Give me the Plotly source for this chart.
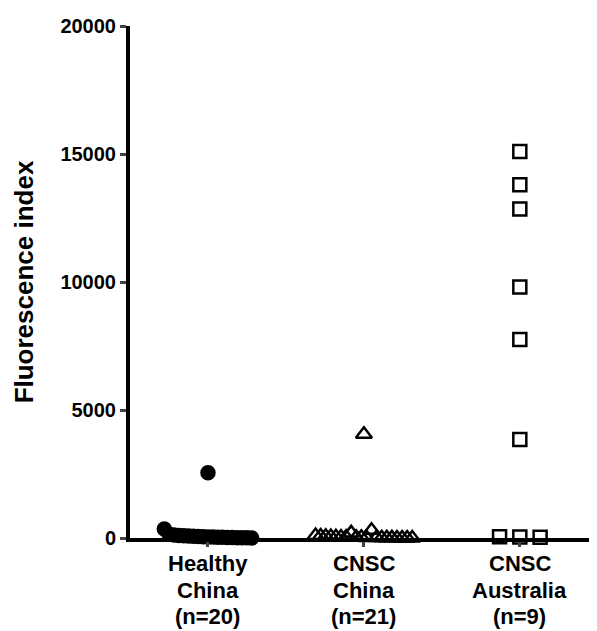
import plotly.graph_objects as go
import numpy as np

category_lines = [["Healthy", "China", "(n=20)"],
                  ["CNSC", "China", "(n=21)"],
                  ["CNSC", "Australia", "(n=9)"]]
healthy_china = [350, 150, 120, 100, 90, 80, 70, 60, 2550, 50, 40, 40, 30, 30, 20, 20, 10, 10, 5, 0]
cnsc_china = [100, 80, 70, 60, 50, 40, 40, 200, 30, 30, 20, 300, 20, 10, 10, 5, 0, 0, 0, 0, 4050]
cnsc_australia = [15100, 13800, 12850, 9800, 7750, 3850, 50, 40, 30]
y_ticks = [0, 5000, 10000, 15000, 20000]

groups = [healthy_china, cnsc_china, cnsc_australia]
symbols = ["circle", "triangle-up-open", "square-open"]
sizes = [13, 14, 13]
spreads = [0.28, 0.31, 0.13]


def spread_positions(values, center, half_width, thresh=1000):
    vals = np.asarray(values, dtype=float)
    low_idx = [i for i, v in enumerate(vals) if v < thresh]
    xs = np.full(len(vals), float(center))
    if len(low_idx) > 1:
        offs = np.linspace(-half_width, half_width, len(low_idx))
        for k, i in enumerate(low_idx):
            xs[i] = center + offs[k]
    return xs


fig = go.Figure()
for gi, (vals, sym, sz, sp) in enumerate(zip(groups, symbols, sizes, spreads)):
    xs = spread_positions(vals, gi, sp)
    fig.add_trace(go.Scatter(
        x=xs, y=vals, mode="markers", cliponaxis=False,
        marker=dict(symbol=sym, size=sz,
                    color="black", line=dict(color="black", width=2.5)),
        showlegend=False,
    ))

font = "Liberation Sans, Arial, sans-serif"
line_offsets = [25, 52, 78]
for ci, lines in enumerate(category_lines):
    for li, txt in enumerate(lines):
        fig.add_annotation(x=ci, y=0, xref="x", yref="y", text=txt, showarrow=False,
                           yanchor="middle", xanchor="center", yshift=-line_offsets[li],
                           font=dict(family=font, size=22, weight="bold", color="black"))

fig.update_layout(
    width=589, height=623,
    margin=dict(l=122, r=7, t=12, b=93),
    paper_bgcolor="white", plot_bgcolor="white",
    font=dict(family=font, color="black", size=20),
    xaxis=dict(range=[-0.5, 2.45], tickvals=[0, 1, 2], showticklabels=False,
               showgrid=False, zeroline=False, showline=True, linecolor="black",
               linewidth=4, ticks="outside", ticklen=5, tickwidth=3),
    yaxis=dict(range=[0, 20000], tickvals=y_ticks, ticktext=[str(v) for v in y_ticks],
               showgrid=False, zeroline=False, showline=True, linecolor="black",
               linewidth=4, ticks="outside", ticklen=6, tickwidth=3,
               tickfont=dict(family=font, size=20, weight="bold"),
               title=dict(text="Fluorescence index", standoff=20,
                          font=dict(family=font, size=26, weight="bold"))),
)
fig.write_html("out.html")
